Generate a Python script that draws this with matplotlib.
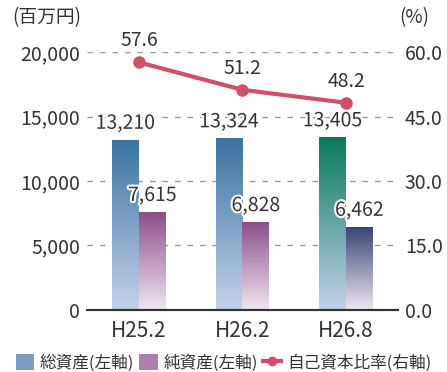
import numpy as np
import matplotlib.pyplot as plt
import matplotlib.patheffects as pe
from matplotlib.colors import LinearSegmentedColormap
from matplotlib.patches import Patch
from matplotlib.lines import Line2D

plt.rcParams['font.family'] = ['Noto Sans CJK JP', 'DejaVu Sans']

categories = ["H25.2", "H26.2", "H26.8"]
total_assets = [13210, 13324, 13405]
net_assets = [7615, 6828, 6462]
equity_ratio = [57.6, 51.2, 48.2]

# gradient colours (top, bottom) per bar
total_colors = [("#3b73a1", "#c5d1eb"), ("#3b73a1", "#c5d1eb"), ("#087a5a", "#c5d1eb")]
net_colors = [("#8b4d88", "#f0e6f1"), ("#8b4d88", "#f0e6f1"), ("#344474", "#f0e6f1")]
line_color = "#cf5068"

fig = plt.figure(figsize=(4.47, 3.72), dpi=100)
ax = fig.add_axes([0.195, 0.1667, 0.695, 0.6935])
ax2 = ax.twinx()

x = np.arange(len(categories))
w = 0.26


def grad_bar(ax, xc, h, top, bottom):
    bars = ax.bar(xc, h, w, color="none", zorder=2)
    cmap = LinearSegmentedColormap.from_list("g", [bottom, top])
    grad = np.linspace(0, 1, 256).reshape(-1, 1)
    im = ax.imshow(grad, cmap=cmap, aspect="auto", origin="lower",
                   extent=[xc - w / 2, xc + w / 2, 0, h], zorder=2)
    im.set_clip_path(bars[0])
    return bars


stroke = [pe.withStroke(linewidth=3, foreground="white")]
for i in range(len(categories)):
    grad_bar(ax, x[i] - w / 2, total_assets[i], *total_colors[i])
    grad_bar(ax, x[i] + w / 2, net_assets[i], *net_colors[i])
    ax.text(x[i] - w / 2, total_assets[i] + 450, f"{total_assets[i]:,}", ha="center", va="bottom",
            fontsize=14, color="#333333", path_effects=stroke, zorder=5)
    ax.text(x[i] + w / 2, net_assets[i] + 450, f"{net_assets[i]:,}", ha="center", va="bottom",
            fontsize=14, color="#333333", path_effects=stroke, zorder=5)

ax.set_xlim(-0.5, 2.5)
ax.set_ylim(0, 20000)
ax.set_yticks([0, 5000, 10000, 15000, 20000])
ax.set_yticklabels(["0", "5,000", "10,000", "15,000", "20,000"])
ax.set_xticks(x)
ax.set_xticklabels(categories)
ax.grid(axis="y", linestyle=(0, (4, 5)), color="#999999", linewidth=1)
ax.set_axisbelow(True)

ax2.plot(x, equity_ratio, color=line_color, linewidth=3, marker="o", markersize=8,
         clip_on=False, zorder=4)
for i, v in enumerate(equity_ratio):
    ax2.text(x[i], v + 2.6, f"{v}", ha="center", va="bottom", fontsize=14, color="#333333")
ax2.set_ylim(0, 60)
ax2.set_yticks([0, 15, 30, 45, 60])
ax2.set_yticklabels(["0.0", "15.0", "30.0", "45.0", "60.0"])

for a in (ax, ax2):
    for s in ["top", "left", "right"]:
        a.spines[s].set_visible(False)
    a.spines["bottom"].set_color("#333333")
    a.spines["bottom"].set_linewidth(1.5)
    a.tick_params(length=0, labelsize=14, colors="#333333", pad=5)
ax.tick_params(axis="x", labelsize=15, pad=7)

fig.text(0.028, 0.952, "(百万円)", fontsize=13.5, color="#333333", va="center")
fig.text(0.893, 0.952, "(%)", fontsize=13.5, color="#333333", va="center")

handles = [Patch(facecolor="#7d9cc4"), Patch(facecolor="#b07fae"),
           Line2D([0], [0], color=line_color, linewidth=3, marker="o", markersize=6)]
labels = ["総資産(左軸)", "純資産(左軸)", "自己資本比率(右軸)"]
fig.legend(handles, labels, loc="lower center", bbox_to_anchor=(0.5, -0.04), ncol=3, frameon=False,
           fontsize=12, handlelength=1.1, handleheight=1.1, handletextpad=0.35, columnspacing=0.3,
           labelcolor="#333333")

fig.savefig("out.png", dpi=100)
